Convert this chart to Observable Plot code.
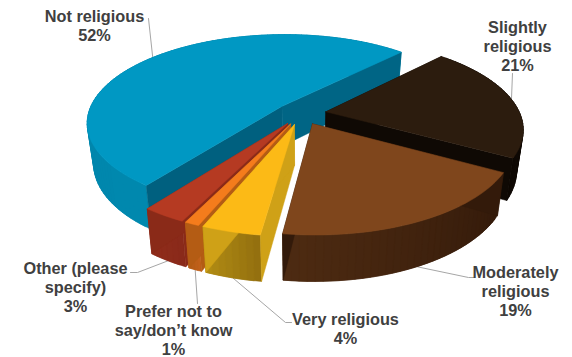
<!DOCTYPE html>
<html>
<head>
<meta charset="utf-8">
<script src="https://cdn.jsdelivr.net/npm/d3@7"></script>
<script src="https://cdn.jsdelivr.net/npm/@observablehq/plot@0.6"></script>
<style>
  html, body { margin: 0; padding: 0; background: #fff; }
  svg { display: block; }
</style>
</head>
<body>
<div id="chart"></div>
<script>
// Religiosity survey shares, in clockwise order from the lower left
const categories = ["Not religious", "Slightly\nreligious", "Moderately\nreligious", "Very religious", "Prefer not to\nsay/don’t know", "Other (please\nspecify)"];
const shares = [52, 21, 19, 4, 1, 3];

// Slice colours: top face, outer wall start and end, radial wall at each edge
const topColors = ["#0098c3", "#2c1c0e", "#7f461c", "#fcba16", "#f47c1c", "#b53a22"];
const wallFrom = ["#0088ae", "#0f0904", "#331a0a", "#94700f", "#c0601a", "#8a2a1a"];
const wallTo = ["#0082a8", "#0f0904", "#4e2b12", "#b48f14", "#b05a14", "#902c1a"];
const edgeStart = ["#00607f", "#0f0904", "#331a0a", "#cfa117", "#b45c14", "#8a2a18"];
const edgeEnd = ["#006585", "#0f0904", "#331a0a", "#cfa117", "#b45c14", "#8a2a18"];

// Slices are painted back to front; the small ones overlap towards the largest index first
const paintOrder = [0, 1, 2, 5, 4, 3];

// Label centres and the leader's bend points, in chart units
const labelSpots = [[94, 25], [517, 45], [515, 290], [345, 328], [173, 329], [75, 286]];
const leaderBends = [[[148, 18]], [[512, 73]], [[468, 277], [474, 277]], [[285, 322], [291, 322]], [[197, 303]], [[137, 272], [130, 272]]];
const leaderOnBase = [false, false, true, true, true, true];

// Pie camera: tilted circle with mild perspective and an extruded wall
const camera = {cx: 300.5, cy: 113, rx: 194, ry: 87, persp: 0.18, depth: 40, taper: 0.03, pull: 0.13, start: 126.5};

const rad = Math.PI / 180;
function project(angle, radius, mid, level) {
  const X = radius * Math.cos(angle * rad) + camera.pull * Math.cos(mid * rad);
  const Y = radius * Math.sin(angle * rad) + camera.pull * Math.sin(mid * rad);
  const s = 1 / (1 - camera.persp * Y);
  const k = 1 - camera.taper * level;
  return {
    x: camera.cx + camera.rx * X * s * k,
    y: camera.cy + camera.ry * Y * s * k + camera.depth * s * level
  };
}

// Angular extent of each slice, from its share
let running = camera.start;
const slices = shares.map((share, i) => {
  const a0 = running;
  running += share * 3.6;
  return {i, a0, a1: running, mid: (a0 + running) / 2};
});

// Facets are closed paths, one per id, in paint order
const facets = [];
let nextId = 0;
function addFacet(points, color) {
  const id = nextId++;
  for (const p of [...points, points[0]]) facets.push({id, x: p.x, y: p.y, color});
}

for (const index of paintOrder) {
  const {i, a0, a1, mid} = slices[index];
  const steps = Math.max(4, Math.ceil((a1 - a0) / 2));

  // Outer wall as bands that each run on under the next, so no seams show
  const shade = d3.interpolateRgb(wallFrom[i], wallTo[i]);
  for (let k = 0; k < steps; k++) {
    const u = a0 + (a1 - a0) * k / steps;
    const v = a0 + (a1 - a0) * Math.min(k + 2, steps) / steps;
    addFacet([project(u, 1, mid, 0), project(v, 1, mid, 0), project(v, 1, mid, 1), project(u, 1, mid, 1)], shade(k / steps));
  }

  const apexTop = project(a0, 0, mid, 0);
  const apexBase = project(a0, 0, mid, 1);
  addFacet([apexTop, project(a0, 1, mid, 0), project(a0, 1, mid, 1), apexBase], edgeStart[i]);
  addFacet([apexTop, project(a1, 1, mid, 0), project(a1, 1, mid, 1), apexBase], edgeEnd[i]);

  const rim = d3.range(steps + 1).map((k) => project(a0 + (a1 - a0) * k / steps, 1, mid, 0));
  addFacet([apexTop, ...rim], topColors[i]);
}

// Leaders start on the rim at the middle of each slice
const leaders = slices.flatMap(({i, mid}) => {
  const anchor = project(mid, 1, mid, leaderOnBase[i] ? 1 : 0);
  return [anchor, ...leaderBends[i].map(([x, y]) => ({x, y}))].map((p) => ({i, x: p.x, y: p.y}));
});

const labels = slices.map(({i}) => ({
  x: labelSpots[i][0],
  y: labelSpots[i][1],
  text: `${categories[i]}\n${shares[i]}%`
}));

const chart = Plot.plot({
  width: 572,
  height: 357,
  margin: 0,
  style: {background: "#fff"},
  x: {domain: [0, 572], range: [0, 572], axis: null},
  y: {domain: [0, 357], range: [0, 357], axis: null},
  marks: [
    Plot.line(leaders, {x: "x", y: "y", z: "i", stroke: "#a6a6a6", strokeWidth: 1}),
    Plot.line(facets, {x: "x", y: "y", z: "id", fill: "color", stroke: "color", strokeWidth: 0.5}),
    Plot.text(labels, {
      x: "x",
      y: "y",
      text: "text",
      fontFamily: "Liberation Sans",
      fontWeight: "bold",
      fontSize: 16.3,
      lineHeight: 1.17,
      fill: "#404040"
    })
  ]
});
document.getElementById("chart").appendChild(chart);
</script>
</body>
</html>
